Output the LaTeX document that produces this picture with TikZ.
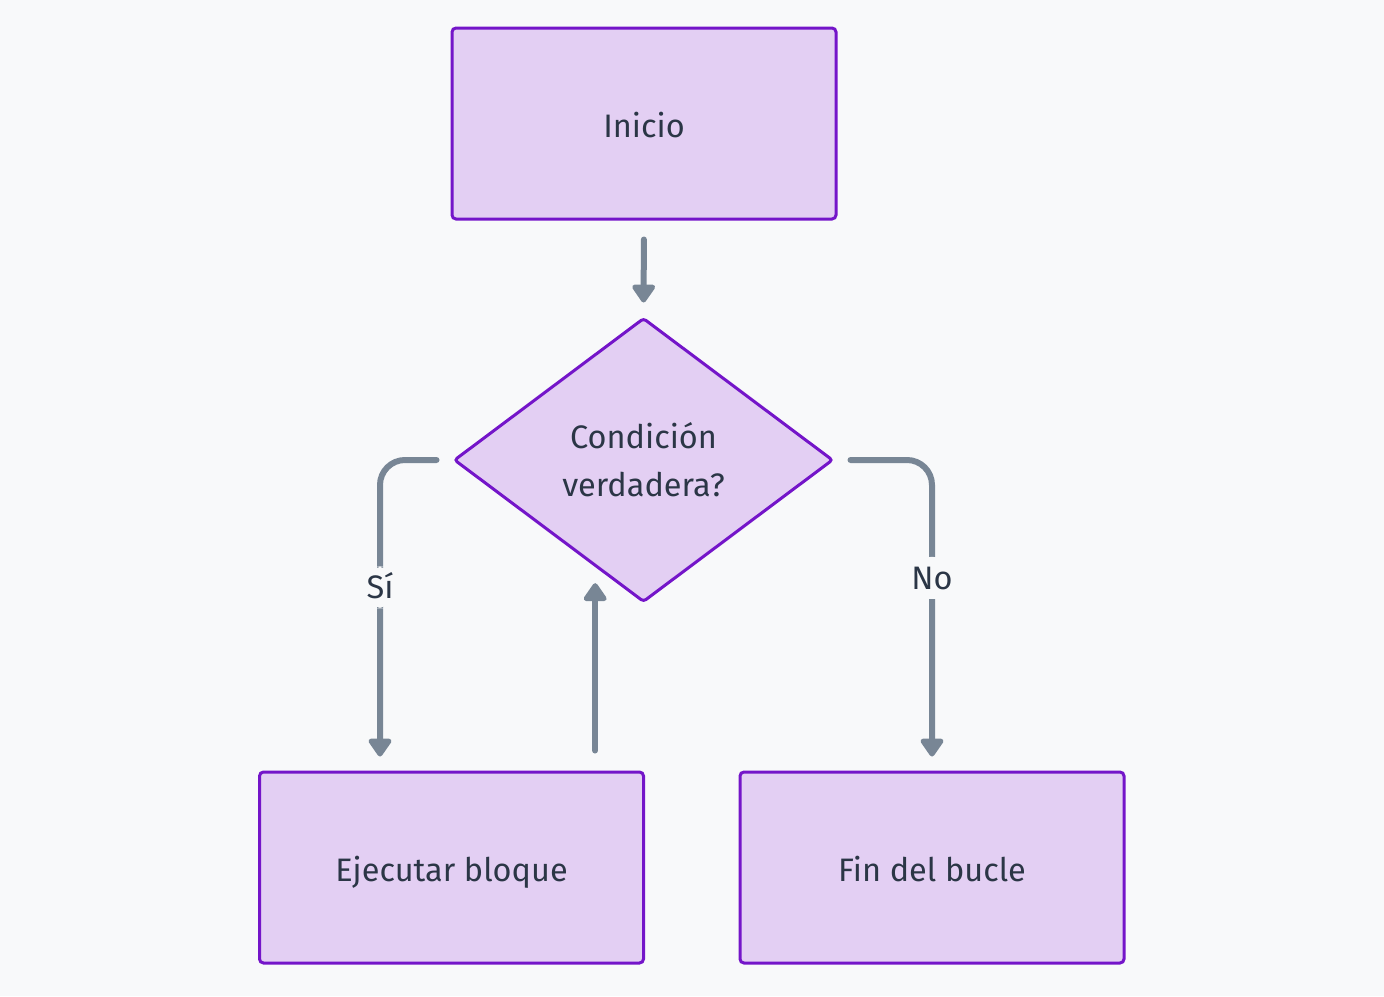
\documentclass[tikz,border=0pt]{standalone}
\usepackage{fontspec}
\setmainfont{Fira Sans}
\usetikzlibrary{shapes.geometric,arrows.meta,calc}
\definecolor{bgc}{HTML}{F8F9FA}
\definecolor{boxfill}{HTML}{E3CFF3}
\definecolor{boxline}{HTML}{7415C9}
\definecolor{conncol}{HTML}{788695}
\definecolor{txtcol}{HTML}{2B3646}
\tikzset{
  every node/.style={font=\fontsize{32.5}{48}\selectfont, text=txtcol},
  procbox/.style={draw=boxline, fill=boxfill, line width=3pt, rounded corners=4pt,
    minimum width=384pt, minimum height=191pt, inner sep=0pt,
    text height=29pt, text depth=1pt},
  decbox/.style={draw=boxline, fill=boxfill, line width=3pt, diamond, rounded corners=3pt,
    minimum width=379pt, minimum height=284pt, inner sep=0pt, align=center},
  conn/.style={draw=conncol, line width=6pt, line cap=round, rounded corners=25pt,
    -{Triangle[width=26pt,length=20pt,round]}},
  lbl/.style={fill=bgc, inner sep=6pt, text height=26pt, text depth=4pt}
}
\begin{document}
\begin{tikzpicture}[x=1pt,y=-1pt]
\fill[bgc] (0,0) rectangle (1384,996);
\useasboundingbox (0,0) rectangle (1384,996);
\node[procbox] (ini) at (644,123.5) {Inicio};
\node[decbox] (dec) at (643.5,460) {Condición\\verdadera?};
\node[procbox] (eje) at (451.5,867.5) {Ejecutar bloque};
\node[procbox] (fin) at (932,867.5) {Fin del bucle};
\coordinate (silane) at ($(eje.north)+(-71.5,0)$);
\coordinate (upend) at ($(dec.west)!0.747!(dec.south)$);
\draw[conn, shorten <=19pt, shorten >=14pt] (ini.south) -- (dec.north);
\draw[conn, shorten <=16pt, shorten >=14pt] (dec.west) -| (silane)
  node[lbl, pos=0.705] (si) {Sí};
\draw[conn, shorten <=16pt, shorten >=14pt] (dec.east) -| (fin.north)
  node[lbl, pos=0.69] (no) {No};
\draw[conn, shorten <=20pt, shorten >=16pt] (eje.north -| upend) -- (upend);
\end{tikzpicture}
\end{document}
